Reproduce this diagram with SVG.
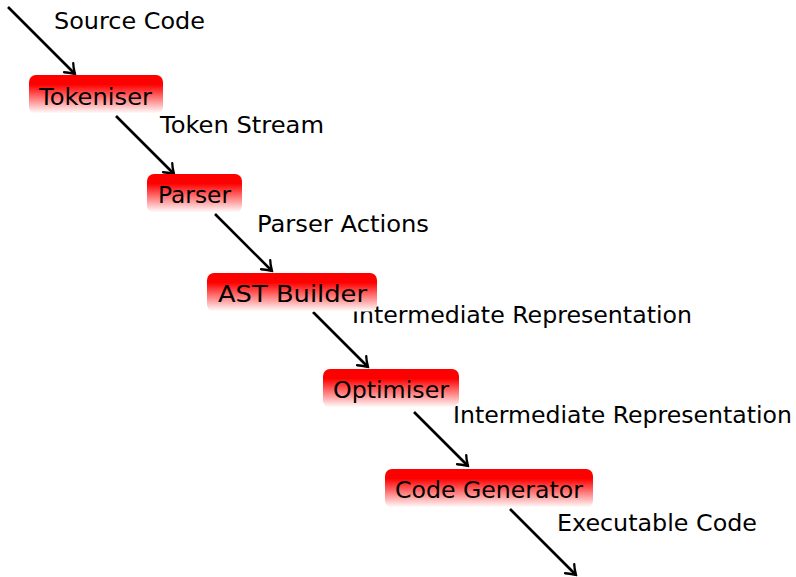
<svg xmlns="http://www.w3.org/2000/svg" width="796" height="577" viewBox="0 0 796 577">
<defs>
<linearGradient id="g" x1="0" y1="0" x2="0" y2="1">
<stop offset="0" stop-color="#ff0000"/>
<stop offset="0.25" stop-color="#ff0000"/>
<stop offset="1" stop-color="#ffffff"/>
</linearGradient>
<marker id="arr" viewBox="-11 -8 13 16" markerWidth="13" markerHeight="16" refX="0" refY="0" orient="auto" markerUnits="userSpaceOnUse">
<path d="M-9,-6.5 C-6,-3.5 -2,-1.2 0,0 C-2,1.2 -6,3.5 -9,6.5" fill="none" stroke="#000" stroke-width="2.3" stroke-linecap="round"/>
</marker>
</defs>
<style>
.box{fill:url(#g);}
.t{font-family:"DejaVu Sans","Liberation Sans",sans-serif;font-size:23.5px;fill:#000;}
.c{stroke:#000;stroke-width:2.6;fill:none;marker-end:url(#arr);}
</style>
<g id="connectors">
<line class="c" x1="8" y1="7" x2="75" y2="74"/>
<line class="c" x1="116" y1="116" x2="174" y2="174"/>
<line class="c" x1="215" y1="214" x2="272" y2="271"/>
<line class="c" x1="313" y1="312" x2="368" y2="367"/>
<line class="c" x1="414" y1="412" x2="468" y2="466"/>
<line class="c" x1="510" y1="509" x2="576" y2="575"/>
</g>
<g id="labels">
<text class="t" x="54" y="29" textLength="151" lengthAdjust="spacingAndGlyphs">Source Code</text>
<text class="t" x="160" y="133" textLength="164" lengthAdjust="spacingAndGlyphs">Token Stream</text>
<text class="t" x="257" y="232" textLength="172" lengthAdjust="spacingAndGlyphs">Parser Actions</text>
<text class="t" x="352" y="323" textLength="340" lengthAdjust="spacingAndGlyphs">Intermediate Representation</text>
<text class="t" x="453" y="423" textLength="339" lengthAdjust="spacingAndGlyphs">Intermediate Representation</text>
<text class="t" x="557" y="531" textLength="200" lengthAdjust="spacingAndGlyphs">Executable Code</text>
</g>
<g id="tokeniser">
<rect class="box" x="29" y="75" width="134" height="38.5" rx="7"/>
<text class="t" x="39" y="105" textLength="113" lengthAdjust="spacingAndGlyphs">Tokeniser</text>
</g>
<g id="parser">
<rect class="box" x="147" y="174" width="95" height="38.5" rx="7"/>
<text class="t" x="158" y="203" textLength="73" lengthAdjust="spacingAndGlyphs">Parser</text>
</g>
<g id="ast-builder">
<rect class="box" x="207" y="273" width="170" height="38.5" rx="7"/>
<text class="t" x="218" y="302" textLength="149" lengthAdjust="spacingAndGlyphs">AST Builder</text>
</g>
<g id="optimiser">
<rect class="box" x="323" y="369" width="136" height="38.5" rx="7"/>
<text class="t" x="333" y="398" textLength="116" lengthAdjust="spacingAndGlyphs">Optimiser</text>
</g>
<g id="code-generator">
<rect class="box" x="385" y="469" width="208" height="38.5" rx="7"/>
<text class="t" x="395" y="498" textLength="188" lengthAdjust="spacingAndGlyphs">Code Generator</text>
</g>
</svg>
